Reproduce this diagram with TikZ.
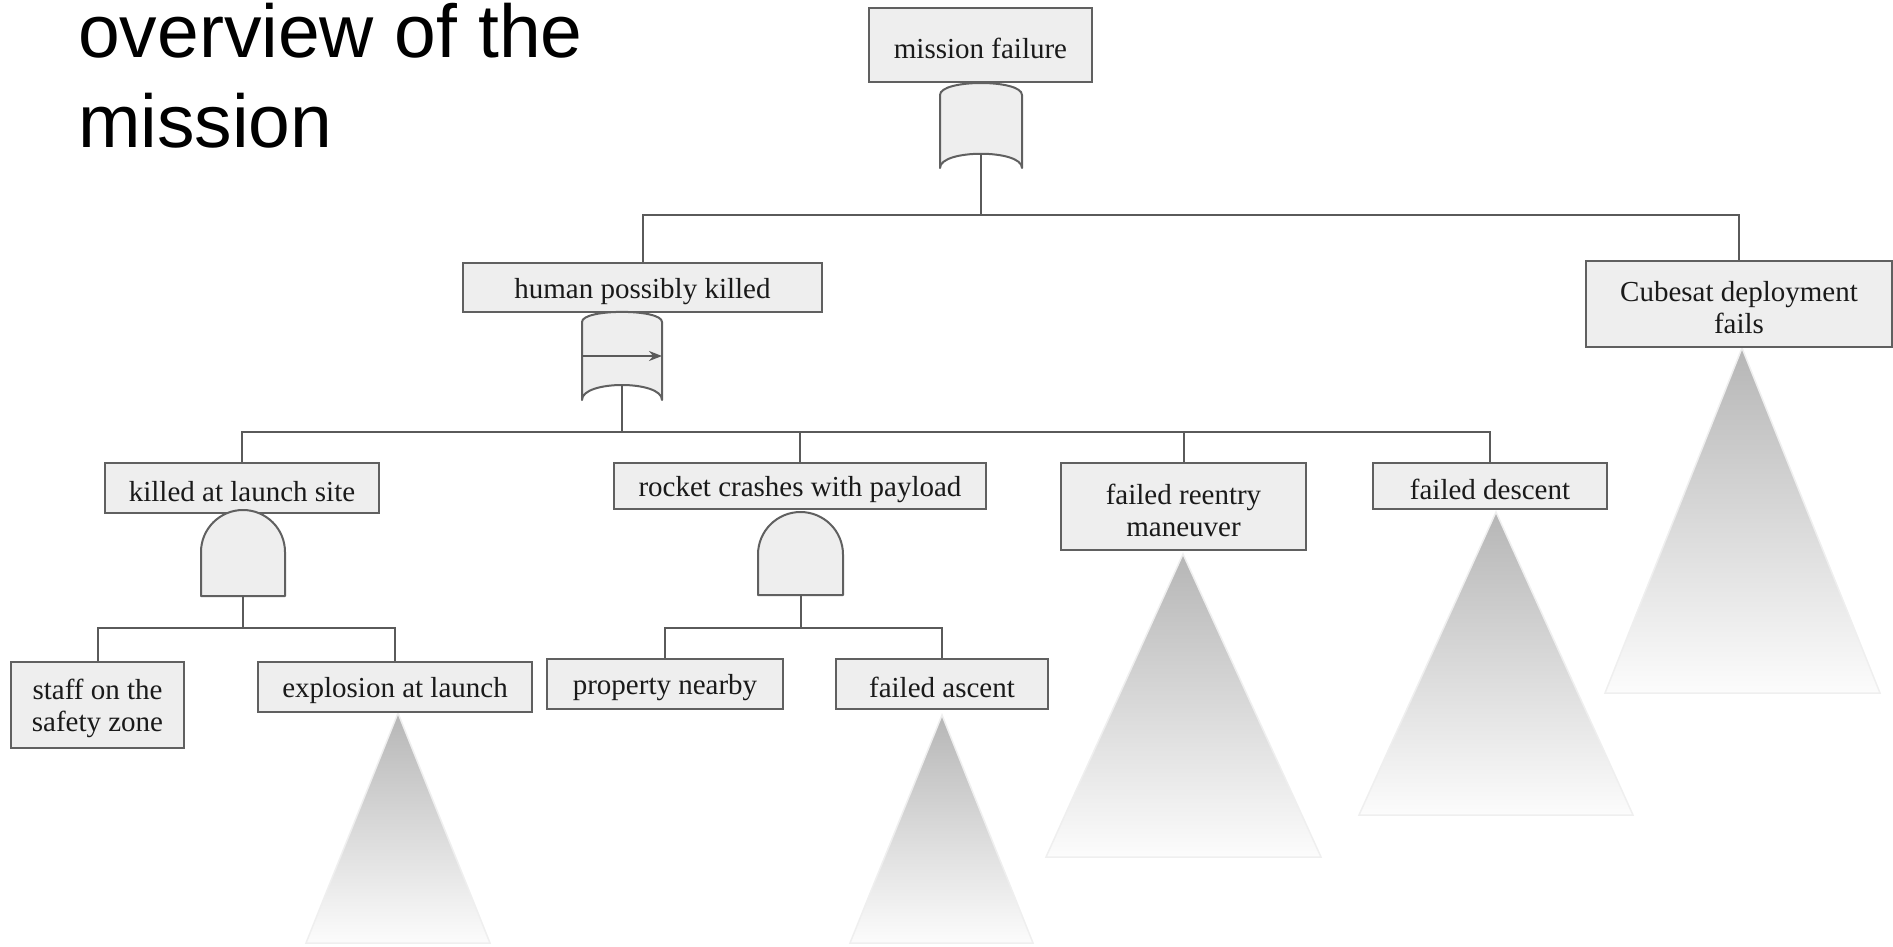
\documentclass[tikz,border=0pt]{standalone}
\usepackage{fontspec}
\setmainfont{Liberation Serif}
\newfontfamily\titlefont{Liberation Sans}
\usetikzlibrary{arrows.meta}
\definecolor{boxfill}{HTML}{EEEEEE}
\definecolor{boxline}{HTML}{606060}
\definecolor{wire}{HTML}{5A5A5A}
\definecolor{tritop}{HTML}{B6B6B6}
\definecolor{tribot}{HTML}{FCFCFC}
\definecolor{triline}{HTML}{EFEFEF}
\definecolor{txt}{HTML}{1A1A1A}
\newcommand{\topstrut}{\rule{0pt}{28pt}}
\tikzset{
  evbox/.style={draw=boxline, fill=boxfill, line width=2pt, inner sep=0pt,
    align=center, text=txt, font=\fontsize{29}{32}\selectfont},
  wireline/.style={draw=wire, line width=2pt},
  gateshape/.style={draw=boxline, fill=boxfill, line width=2pt, line join=round},
  subtree/.style={draw=triline, line width=1.5pt, top color=tritop, bottom color=tribot},
  titletext/.style={anchor=base west, inner sep=0pt, font=\titlefont\fontsize{75}{90}\selectfont}
}
\begin{document}
\begin{tikzpicture}[x=1pt, y=-1pt]
\path[use as bounding box] (0,0) rectangle (1893,946);

% title
\node[titletext] (t1) at (78,57) {overview of the};
\node[titletext] (t2) at (78,147) {mission};

% subtree triangles
\shade[subtree] (1742,348) -- (1880,693) -- (1605,693) -- cycle;
\shade[subtree] (1496,512) -- (1633,815) -- (1359,815) -- cycle;
\shade[subtree] (1183,554) -- (1321,857) -- (1046,857) -- cycle;
\shade[subtree] (398,713) -- (490,943) -- (306,943) -- cycle;
\shade[subtree] (942,715) -- (1033,943) -- (850,943) -- cycle;

% event boxes
\node[evbox, minimum width=223pt, minimum height=74pt] (mf) at (980.5,45) {\topstrut mission failure};
\node[evbox, minimum width=359pt, minimum height=49pt] (hk) at (642.5,287.5) {\topstrut human possibly killed};
\node[evbox, minimum width=306pt, minimum height=86pt] (cd) at (1739,304) {\topstrut Cubesat deployment\\fails};
\node[evbox, minimum width=274pt, minimum height=50pt] (kl) at (242,488) {\topstrut killed at launch site};
\node[evbox, minimum width=372pt, minimum height=46pt] (rc) at (800,486) {\topstrut rocket crashes with payload};
\node[evbox, minimum width=245pt, minimum height=87pt] (fr) at (1183.5,506.5) {\topstrut failed reentry\\maneuver};
\node[evbox, minimum width=234pt, minimum height=46pt] (fd) at (1490,486) {\topstrut failed descent};
\node[evbox, minimum width=173pt, minimum height=86pt] (st) at (97.5,705) {\topstrut staff on the\\safety zone};
\node[evbox, minimum width=274pt, minimum height=50pt] (ex) at (395,687) {\topstrut explosion at launch};
\node[evbox, minimum width=236pt, minimum height=50pt] (pn) at (665,684) {\topstrut property nearby};
\node[evbox, minimum width=212pt, minimum height=50pt] (fa) at (942,684) {\topstrut failed ascent};

% OR gate under mission failure
\path[gateshape] (940,95) .. controls (940,79) and (1022,79) .. (1022,95)
  -- (1022,168) .. controls (1022,149) and (940,149) .. (940,168) -- cycle;
\coordinate (g1o) at (981,154);
\coordinate (b1) at (981,215);

% priority AND gate under human possibly killed
\path[gateshape] (582,322) .. controls (582,308.5) and (662,308.5) .. (662,322)
  -- (662,400) .. controls (662,380) and (582,380) .. (582,400) -- cycle;
\coordinate (g2a) at (582,356);
\coordinate (g2b) at (662,356);
\draw[wireline, -{Stealth[length=13pt,width=10pt]}] (g2a) -- (g2b);
\coordinate (g2o) at (622,385);
\coordinate (b2) at (622,432);

% AND gate under killed at launch site
\path[gateshape] (201,596) -- (201,552) arc[start angle=180, end angle=0, radius=42pt] -- (285,596) -- cycle;
\coordinate (g3o) at (243,596);
\coordinate (b3) at (243,628);

% AND gate under rocket crashes with payload
\path[gateshape] (758,595) -- (758,554.5) arc[start angle=180, end angle=0, radius=42.5pt] -- (843,595) -- cycle;
\coordinate (g4o) at (800.5,595);
\coordinate (b4) at (800.5,628);

% connectors
\draw[wireline] (g1o) -- (b1);
\draw[wireline] (b1) -| (hk.north);
\draw[wireline] (b1) -| (cd.north);

\draw[wireline] (g2o) -- (b2);
\draw[wireline] (b2) -| (kl.north);
\draw[wireline] (b2) -| (rc.north);
\draw[wireline] (b2) -| (fr.north);
\draw[wireline] (b2) -| (fd.north);

\draw[wireline] (g3o) -- (b3);
\draw[wireline] (b3) -| (st.north);
\draw[wireline] (b3) -| (ex.north);

\draw[wireline] (g4o) -- (b4);
\draw[wireline] (b4) -| (pn.north);
\draw[wireline] (b4) -| (fa.north);
\end{tikzpicture}
\end{document}
